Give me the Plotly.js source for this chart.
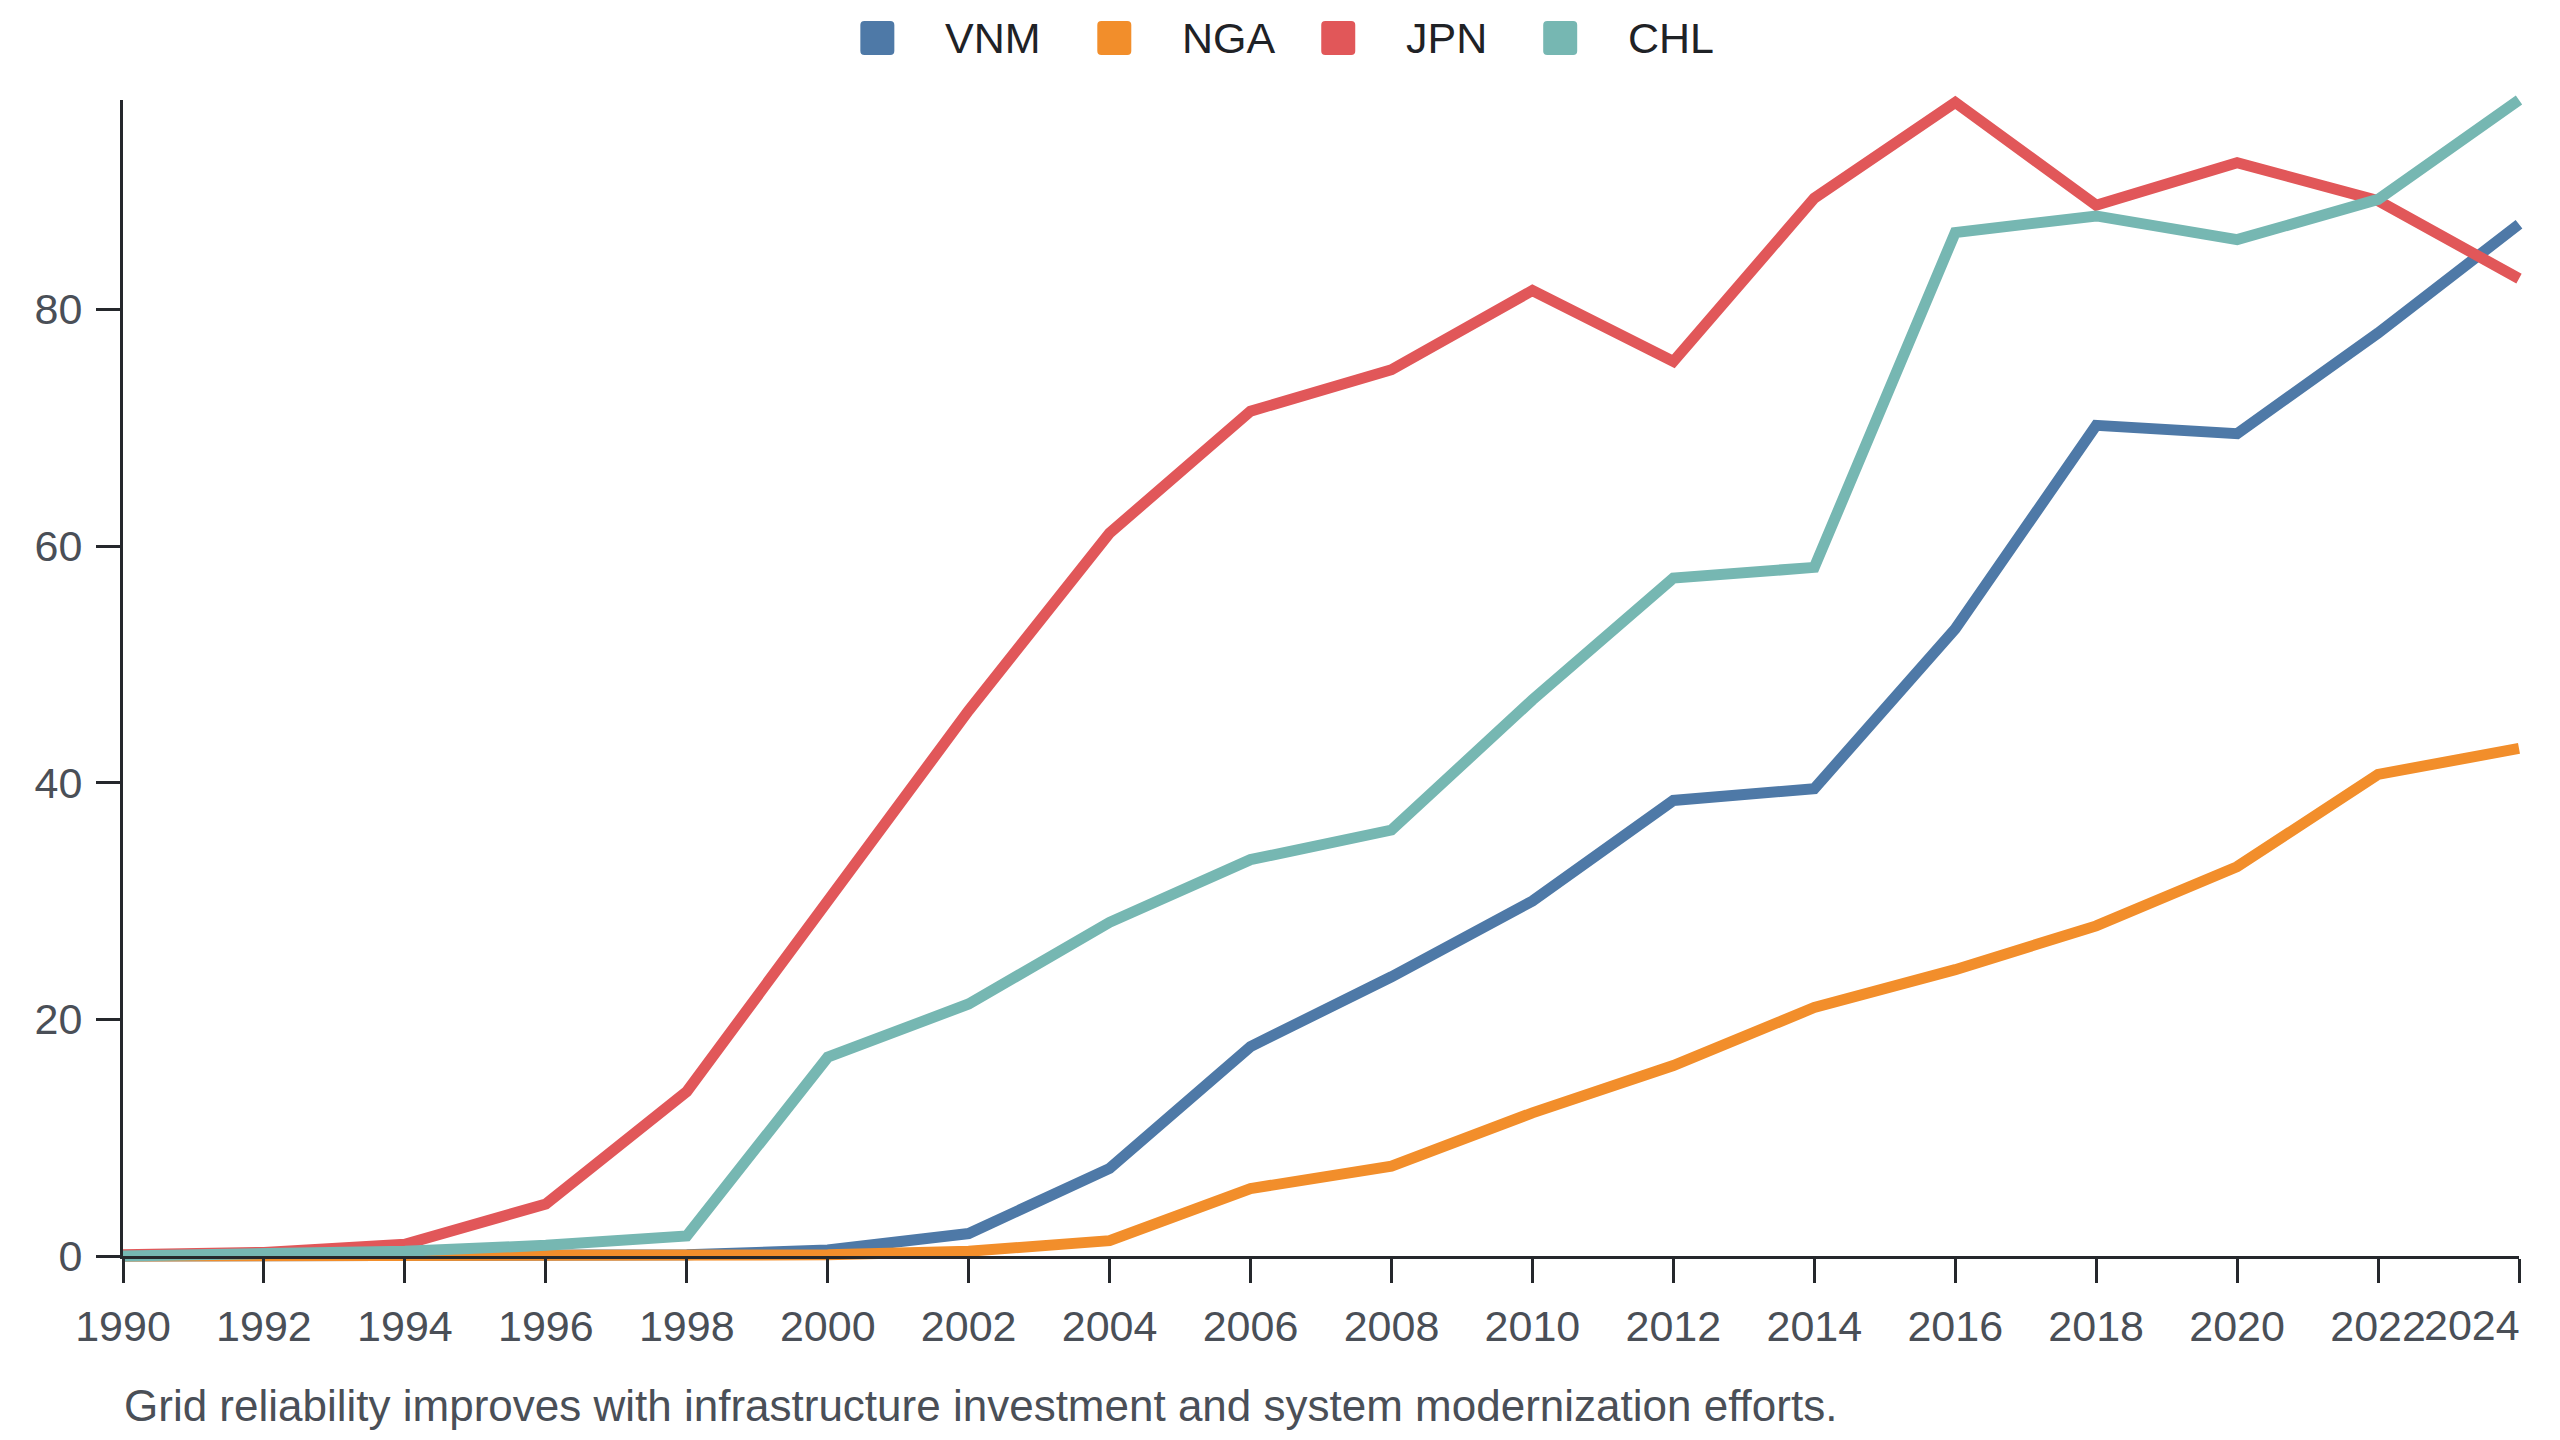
<!DOCTYPE html>
<html>
<head>
<meta charset="utf-8">
<script src="https://cdn.plot.ly/plotly-3.0.1.min.js"></script>
<style>
  html, body { margin: 0; padding: 0; background: #ffffff; }
  #chart { width: 2560px; height: 1440px; }
</style>
</head>
<body>
<div id="chart"></div>
<script>
"use strict";

const YEARS = [1990, 1992, 1994, 1996, 1998, 2000, 2002, 2004, 2006, 2008, 2010, 2012, 2014, 2016, 2018, 2020, 2022, 2024];
const VNM = [0, 0, 0, 0, 0.1, 0.5, 1.9, 7.4, 17.7, 23.6, 30.0, 38.5, 39.5, 53.0, 70.2, 69.5, 78.0, 87.2];
const NGA = [0, 0, 0, 0, 0, 0.1, 0.4, 1.3, 5.7, 7.6, 12.1, 16.1, 21.0, 24.2, 27.9, 32.9, 40.7, 42.9];
const JPN = [0.1, 0.3, 1.0, 4.4, 13.9, 30.0, 46.1, 61.1, 71.4, 74.9, 81.6, 75.6, 89.4, 97.5, 88.8, 92.4, 89.2, 82.6];
const CHL = [0, 0.1, 0.4, 0.9, 1.7, 16.8, 21.3, 28.2, 33.5, 36.0, 47.0, 57.3, 58.2, 86.5, 87.9, 85.9, 89.3, 97.7];

const SERIES_NAMES = ["VNM", "NGA", "JPN", "CHL"];
const SERIES_VALUES = [VNM, NGA, JPN, CHL];
const COLORS = ["#4e79a7", "#f28e2b", "#e15759", "#76b7b2"];
const Y_TICKS = [0, 20, 40, 60, 80];
const CAPTION = "Grid reliability improves with infrastructure investment and system modernization efforts.";

const W = 2560, H = 1440;
const M = { l: 122.5, r: 41, t: 100, b: 184 };
const FONT = "Liberation Sans, Arial, Helvetica, sans-serif";
const INK = "#25282c";
const LABEL = "#4a4f57";

// pixel -> paper helpers, only for the hand-made legend and caption
const plotW = W - M.l - M.r, plotH = H - M.t - M.b;
const px = (x) => (x - M.l) / plotW;
const py = (y) => (H - M.b - y) / plotH;

const yMax = Math.max(...SERIES_VALUES.flat());
const lastYear = YEARS[YEARS.length - 1];

const traces = SERIES_NAMES.map((name, i) => ({
  type: "scatter",
  mode: "lines",
  name,
  x: YEARS,
  y: SERIES_VALUES[i],
  line: { color: COLORS[i], width: 11, shape: "linear" },
  cliponaxis: false,
  hoverinfo: "x+y+name",
}));

// the last tick label is drawn separately, right-aligned to the axis end
const tickText = YEARS.map((y) => (y === lastYear ? "" : String(y)));

// legend: rounded squares + labels across the top
const shapes = [];
const annotations = [];
const SW = 34, TEXT_OFF = 83, LEG_Y = 38;
const LEG_X = [860, 1097, 1321, 1543];
SERIES_NAMES.forEach((name, i) => {
  const x0 = LEG_X[i];
  const r = 4;
  const y0 = LEG_Y - SW / 2, y1 = LEG_Y + SW / 2, x1 = x0 + SW;
  const p = (x, y) => `${px(x)},${py(y)}`;
  shapes.push({
    type: "path",
    xref: "paper", yref: "paper",
    path: `M${p(x0 + r, y0)} L${p(x1 - r, y0)} Q${p(x1, y0)} ${p(x1, y0 + r)} L${p(x1, y1 - r)} Q${p(x1, y1)} ${p(x1 - r, y1)} ` +
          `L${p(x0 + r, y1)} Q${p(x0, y1)} ${p(x0, y1 - r)} L${p(x0, y0 + r)} Q${p(x0, y0)} ${p(x0 + r, y0)} Z`,
    fillcolor: COLORS[i],
    line: { width: 0 },
  });
  annotations.push({
    xref: "paper", yref: "paper",
    x: px(x0 + TEXT_OFF), y: py(LEG_Y),
    xanchor: "left", yanchor: "middle",
    text: name, showarrow: false,
    font: { family: FONT, size: 43, color: "#1f2226" },
  });
});

annotations.push({
  xref: "x", yref: "paper",
  x: lastYear, y: py(1325),
  xanchor: "right", yanchor: "middle", xshift: 3,
  text: String(lastYear), showarrow: false,
  font: { family: FONT, size: 43, color: LABEL },
});

annotations.push({
  xref: "paper", yref: "paper",
  x: px(121), y: py(1405),
  xanchor: "left", yanchor: "middle",
  text: CAPTION, showarrow: false,
  font: { family: FONT, size: 44, color: LABEL },
});

const axisBase = {
  showline: true,
  linecolor: INK,
  linewidth: 3,
  ticks: "outside",
  ticklen: 24,
  tickwidth: 3,
  tickcolor: INK,
  showgrid: false,
  zeroline: false,
  tickfont: { family: FONT, size: 43, color: LABEL },
  fixedrange: true,
};

const layout = {
  width: W,
  height: H,
  margin: { l: M.l, r: M.r, t: M.t, b: M.b, pad: 0 },
  paper_bgcolor: "#ffffff",
  plot_bgcolor: "#ffffff",
  font: { family: FONT, size: 43, color: LABEL },
  showlegend: false,
  hovermode: "closest",
  xaxis: {
    ...axisBase,
    range: [YEARS[0], lastYear],
    tickmode: "array",
    tickvals: YEARS,
    ticktext: tickText,
    tickangle: 0,
    ticklabelstandoff: 6,
  },
  yaxis: {
    ...axisBase,
    range: [0, yMax],
    tickmode: "array",
    tickvals: Y_TICKS,
    ticktext: Y_TICKS.map(String),
    ticklabelstandoff: 5,
  },
  shapes,
  annotations,
};

Plotly.newPlot("chart", traces, layout, { displayModeBar: false, staticPlot: true }).then((gd) => {
  // let the thick lines sit over the axes like the original instead of being clipped
  gd.querySelectorAll(".cartesianlayer [clip-path]").forEach((el) => el.removeAttribute("clip-path"));
});
</script>
</body>
</html>
